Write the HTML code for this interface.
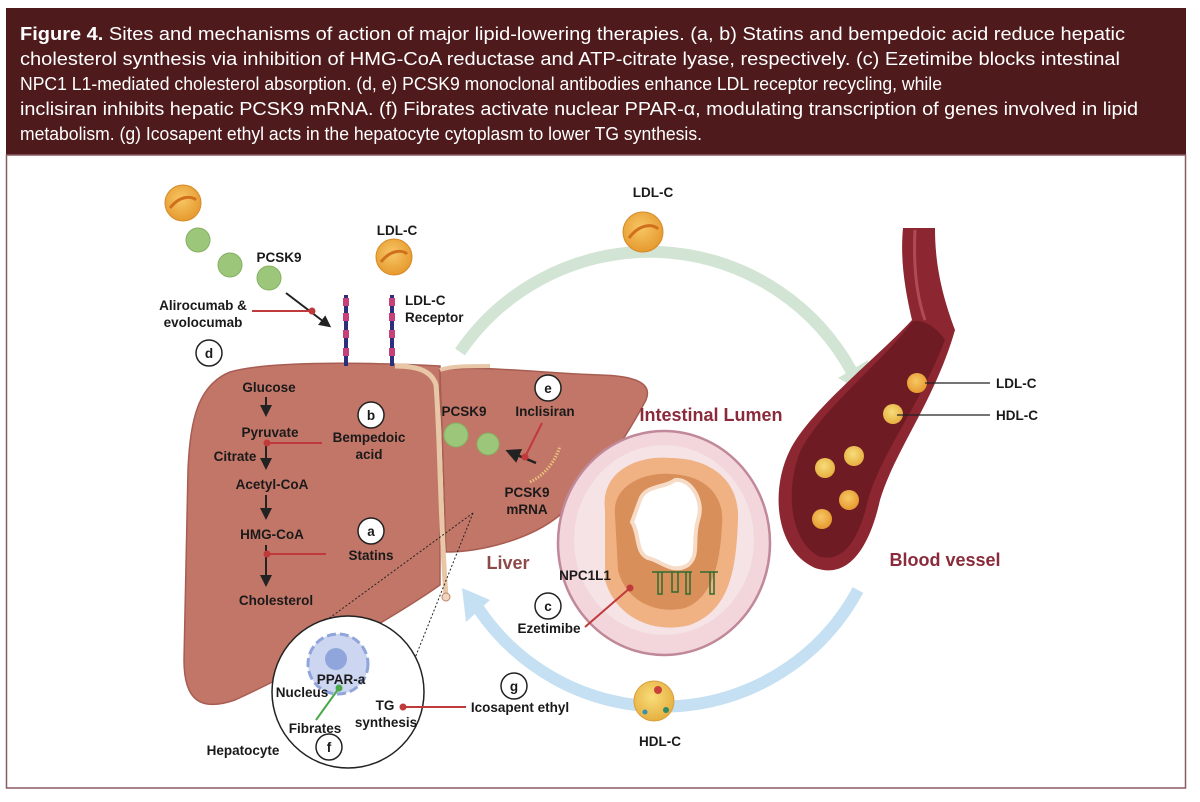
<!DOCTYPE html>
<html><head><meta charset="utf-8"><style>
html,body{margin:0;padding:0;background:#fff;width:1200px;height:802px;overflow:hidden}
svg{display:block}
text{font-family:"Liberation Sans",sans-serif}
.b{font-weight:bold;font-size:13.5px;fill:#1a1a1a}
</style></head><body>
<svg width="1200" height="802" viewBox="0 0 1200 802" xmlns="http://www.w3.org/2000/svg">
<defs>
<radialGradient id="ldl" cx="45%" cy="40%" r="60%"><stop offset="0" stop-color="#f7c766"/><stop offset="1" stop-color="#e69a2e"/></radialGradient>
<radialGradient id="hdl" cx="45%" cy="40%" r="60%"><stop offset="0" stop-color="#f8dc7a"/><stop offset="1" stop-color="#e6b040"/></radialGradient>
<marker id="ah" markerWidth="6" markerHeight="6" refX="4" refY="3" orient="auto" markerUnits="strokeWidth"><path d="M0,0 L6,3 L0,6 Z" fill="#222"/></marker>
</defs>
<rect x="6" y="8" width="1180" height="147" fill="#4f1a1c"/>
<g fill="#fff" font-size="18">
<text x="20" y="40" textLength="1105" lengthAdjust="spacingAndGlyphs"><tspan font-weight="bold">Figure 4.</tspan>  Sites and mechanisms of action of major lipid-lowering therapies. (a, b) Statins and bempedoic acid reduce hepatic</text>
<text x="20" y="65" textLength="1100" lengthAdjust="spacingAndGlyphs">cholesterol synthesis via inhibition of HMG-CoA reductase and ATP-citrate lyase, respectively. (c) Ezetimibe blocks intestinal</text>
<text x="20" y="90" textLength="922" lengthAdjust="spacingAndGlyphs">NPC1 L1-mediated cholesterol absorption. (d, e) PCSK9 monoclonal antibodies enhance LDL receptor recycling, while</text>
<text x="20" y="115" textLength="1118" lengthAdjust="spacingAndGlyphs">inclisiran inhibits hepatic PCSK9 mRNA. (f) Fibrates activate nuclear PPAR-α, modulating transcription of genes involved in lipid</text>
<text x="20" y="140" textLength="682" lengthAdjust="spacingAndGlyphs">metabolism. (g) Icosapent ethyl acts in the hepatocyte cytoplasm to lower TG synthesis.</text>
</g>
<rect x="6.5" y="155" width="1179" height="633" fill="none" stroke="#8a5a60" stroke-width="1.5"/>

<path d="M460,352 A230,230 0 0 1 852,372" fill="none" stroke="#d2e4d3" stroke-width="12"/>
<path d="M838,378 L872,398 L868,360 Z" fill="#d2e4d3"/>
<path d="M858,590 A222,222 0 0 1 478,608" fill="none" stroke="#c5e0f2" stroke-width="12"/>
<path d="M462,588 L466,622 L490,600 Z" fill="#c5e0f2"/>

<path d="M440,366 C380,363 270,360 230,372 C198,385 190,420 188,470 L184,660 C184,700 200,712 235,700 C300,670 390,620 440,585 Z" fill="#c27668" stroke="#a85d52" stroke-width="1.5"/>
<path d="M440,370 C480,365 540,373 600,375 C640,376 652,385 646,400 C630,430 600,480 560,515 C530,540 480,552 446,552 Z" fill="#c27668" stroke="#a85d52" stroke-width="1.5"/>
<path d="M395,366 C420,366 432,372 436,385 C440,430 440,520 446,596" fill="none" stroke="#e8c7a6" stroke-width="5"/>
<path d="M440,370 C450,366 470,366 490,366" fill="none" stroke="#e8c7a6" stroke-width="4"/>
<circle cx="446" cy="597" r="4" fill="#f2d5bf" stroke="#b8866a"/>

<g stroke-width="4">
<line x1="346" y1="295" x2="346" y2="366" stroke="#2c2f7a"/>
<line x1="392" y1="295" x2="392" y2="366" stroke="#2c2f7a"/>
</g>
<g fill="#c8407a">
<rect x="343" y="298" width="6" height="8"/><rect x="343" y="313" width="6" height="8"/><rect x="343" y="330" width="6" height="8"/><rect x="343" y="348" width="6" height="8"/>
<rect x="389" y="298" width="6" height="8"/><rect x="389" y="313" width="6" height="8"/><rect x="389" y="330" width="6" height="8"/><rect x="389" y="348" width="6" height="8"/>
</g>
<circle cx="183" cy="203" r="18" fill="url(#ldl)" stroke="#d58a2a"/>
<path d="M170,208 C180,195 192,196 196,200" stroke="#d0701c" stroke-width="3" fill="none"/>
<circle cx="394" cy="257" r="18" fill="url(#ldl)" stroke="#d58a2a"/>
<path d="M381,262 C391,249 403,250 407,254" stroke="#d0701c" stroke-width="3" fill="none"/>
<circle cx="643" cy="232" r="20" fill="url(#ldl)" stroke="#d58a2a"/>
<path d="M629,238 C640,223 654,224 658,229" stroke="#d0701c" stroke-width="3" fill="none"/>
<g fill="#9cc77a" stroke="#86b062">
<circle cx="198" cy="240" r="12"/><circle cx="230" cy="265" r="12"/><circle cx="269" cy="278" r="12"/>
<circle cx="456" cy="435" r="12"/><circle cx="488" cy="444" r="11"/>
</g>

<text class="b" x="397" y="235" text-anchor="middle" font-size="16">LDL-C</text>
<text class="b" x="279" y="262" text-anchor="middle">PCSK9</text>
<line x1="286" y1="293" x2="328" y2="325" stroke="#222" stroke-width="2" marker-end="url(#ah)"/>
<text class="b" x="203" y="310" text-anchor="middle">Alirocumab &amp;</text>
<text class="b" x="203" y="327" text-anchor="middle">evolocumab</text>
<line x1="252" y1="311" x2="312" y2="311" stroke="#c0393b" stroke-width="2"/><circle cx="312" cy="311" r="3.5" fill="#c0393b"/>
<circle cx="209" cy="353" r="13" fill="#fff" stroke="#222" stroke-width="1.5"/><text class="b" x="209" y="358" text-anchor="middle">d</text>
<text class="b" x="405" y="305">LDL-C</text><text class="b" x="405" y="322">Receptor</text>
<text class="b" x="653" y="197" text-anchor="middle" font-size="16">LDL-C</text>

<text class="b" x="269" y="392" text-anchor="middle">Glucose</text>
<text class="b" x="270" y="437" text-anchor="middle">Pyruvate</text>
<text class="b" x="235" y="461" text-anchor="middle">Citrate</text>
<text class="b" x="272" y="489" text-anchor="middle">Acetyl-CoA</text>
<text class="b" x="272" y="539" text-anchor="middle">HMG-CoA</text>
<text class="b" x="276" y="605" text-anchor="middle">Cholesterol</text>
<g stroke="#222" stroke-width="2">
<line x1="266" y1="397" x2="266" y2="413" marker-end="url(#ah)"/>
<line x1="266" y1="443" x2="266" y2="466" marker-end="url(#ah)"/>
<line x1="266" y1="495" x2="266" y2="516" marker-end="url(#ah)"/>
<line x1="266" y1="545" x2="266" y2="583" marker-end="url(#ah)"/>
</g>
<line x1="267" y1="443" x2="322" y2="443" stroke="#c0393b" stroke-width="2"/><circle cx="267" cy="443" r="3.5" fill="#c0393b"/>
<line x1="267" y1="554" x2="326" y2="554" stroke="#c0393b" stroke-width="2"/><circle cx="267" cy="554" r="3.5" fill="#c0393b"/>
<circle cx="371" cy="415" r="13" fill="#fff" stroke="#222" stroke-width="1.5"/><text class="b" x="371" y="420" text-anchor="middle">b</text>
<text class="b" x="369" y="442" text-anchor="middle">Bempedoic</text><text class="b" x="369" y="459" text-anchor="middle">acid</text>
<circle cx="371" cy="531" r="13" fill="#fff" stroke="#222" stroke-width="1.5"/><text class="b" x="371" y="536" text-anchor="middle">a</text>
<text class="b" x="371" y="560" text-anchor="middle">Statins</text>
<text class="b" x="464" y="416" text-anchor="middle">PCSK9</text>
<circle cx="548" cy="388" r="13" fill="#fff" stroke="#222" stroke-width="1.5"/><text class="b" x="548" y="393" text-anchor="middle">e</text>
<text class="b" x="545" y="416" text-anchor="middle">Inclisiran</text>
<line x1="542" y1="423" x2="525" y2="457" stroke="#c0393b" stroke-width="2"/>
<line x1="536" y1="463" x2="510" y2="452" stroke="#222" stroke-width="2.5" marker-end="url(#ah)"/>
<circle cx="525" cy="457" r="3.5" fill="#c0393b"/>
<path d="M530,482 C545,475 555,462 560,446" fill="none" stroke="#e8c27a" stroke-width="3" stroke-dasharray="1.5,1.5"/>
<text class="b" x="527" y="497" text-anchor="middle">PCSK9</text><text class="b" x="527" y="514" text-anchor="middle">mRNA</text>
<text x="508" y="569" text-anchor="middle" font-size="18" font-weight="bold" fill="#8c4a48">Liver</text>

<line x1="473" y1="513" x2="324" y2="622" stroke="#222" stroke-dasharray="2,2"/>
<line x1="473" y1="513" x2="413" y2="663" stroke="#222" stroke-dasharray="2,2"/>
<circle cx="348" cy="692" r="76" fill="#fff" stroke="#222" stroke-width="1.5"/>
<circle cx="338" cy="664" r="30" fill="#cdd6f0" stroke="#8fa5dc" stroke-width="3" stroke-dasharray="9,4"/>
<circle cx="336" cy="659" r="11" fill="#8fa5dc"/>
<text class="b" x="341" y="684" text-anchor="middle">PPAR-a</text>
<text class="b" x="302" y="697" text-anchor="middle" font-size="12.5">Nucleus</text>
<line x1="339" y1="688" x2="316" y2="720" stroke="#4aa84a" stroke-width="2"/><circle cx="339" cy="688" r="3.5" fill="#4aa84a"/>
<text class="b" x="315" y="733" text-anchor="middle">Fibrates</text>
<circle cx="329" cy="747" r="13" fill="#fff" stroke="#222" stroke-width="1.5"/><text class="b" x="329" y="752" text-anchor="middle">f</text>
<text class="b" x="243" y="755" text-anchor="middle">Hepatocyte</text>
<text class="b" x="385" y="710" text-anchor="middle">TG</text><text class="b" x="386" y="727" text-anchor="middle">synthesis</text>
<line x1="403" y1="707" x2="466" y2="707" stroke="#c0393b" stroke-width="2"/><circle cx="403" cy="707" r="3.5" fill="#c0393b"/>
<text class="b" x="520" y="712" text-anchor="middle">Icosapent ethyl</text>
<circle cx="514" cy="686" r="13" fill="#fff" stroke="#222" stroke-width="1.5"/><text class="b" x="514" y="691" text-anchor="middle">g</text>

<ellipse cx="664" cy="543" rx="106" ry="112" fill="#f2d6dc" stroke="#c08898" stroke-width="2.5"/>
<ellipse cx="664" cy="540" rx="90" ry="95" fill="#f5e3e6"/>
<path d="M605,510 C600,470 640,455 670,458 C710,458 740,480 738,520 C736,570 730,610 690,625 C650,635 615,615 605,580 Z" fill="#f0b183"/>
<path d="M615,515 C612,485 645,472 670,474 C705,475 725,495 722,525 C720,565 712,598 685,608 C655,615 625,600 618,570 Z" fill="#d98f5a"/>
<path d="M640,500 C645,485 665,488 675,480 C690,478 705,500 698,520 C692,540 700,555 688,565 C672,575 660,560 648,558 C635,552 640,535 632,522 Z" fill="#fff" stroke="#f6dcc6" stroke-width="4"/>
<g stroke="#2f6b2f" stroke-width="1.5" fill="none">
<path d="M652,572 h40 M658,572 v22 h4 v-22 M672,572 v20 h6 v-20 M686,572 v22 h4 v-22 M700,572 h18 M710,572 v22 h4 v-22"/>
</g>
<text class="b" x="585" y="580" text-anchor="middle" font-size="12.5">NPC1L1</text>
<line x1="585" y1="627" x2="630" y2="588" stroke="#c0393b" stroke-width="2"/><circle cx="630" cy="588" r="3.5" fill="#c0393b"/>
<circle cx="548" cy="606" r="13" fill="#fff" stroke="#222" stroke-width="1.5"/><text class="b" x="548" y="611" text-anchor="middle">c</text>
<text class="b" x="549" y="633" text-anchor="middle">Ezetimibe</text>
<text x="711" y="421" text-anchor="middle" font-size="18" font-weight="bold" fill="#8a2a3a">Intestinal Lumen</text>

<circle cx="654" cy="701" r="20" fill="url(#hdl)" stroke="#d9a040"/>
<circle cx="658" cy="690" r="4" fill="#c9423a"/><circle cx="666" cy="710" r="3" fill="#2f8a6a"/><circle cx="645" cy="712" r="2.5" fill="#3a8fb0"/>
<text class="b" x="660" y="746" text-anchor="middle" font-size="17">HDL-C</text>

<path d="M903,228 C900,260 905,290 912,320 C880,355 810,410 790,450 C770,490 775,550 815,568 C850,580 870,545 880,500 C895,450 935,400 955,330 C940,290 935,260 935,228 Z" fill="#8c2631"/>
<path d="M912,322 C885,360 820,410 800,452 C785,490 790,540 818,556 C845,565 860,535 868,500 C880,455 920,405 945,340 C935,325 920,318 912,322 Z" fill="#6e1b24"/>
<path d="M915,230 C913,270 918,300 925,320" stroke="#b24a55" stroke-width="3" fill="none"/>
<circle cx="917" cy="383" r="10" fill="url(#ldl)"/><circle cx="893" cy="414" r="10" fill="url(#hdl)"/>
<circle cx="854" cy="456" r="10" fill="url(#hdl)"/><circle cx="825" cy="468" r="10" fill="url(#hdl)"/>
<circle cx="849" cy="500" r="10" fill="url(#ldl)"/><circle cx="822" cy="519" r="10" fill="url(#ldl)"/>
<line x1="925" y1="383" x2="990" y2="383" stroke="#222" stroke-width="1.3"/>
<line x1="897" y1="415" x2="990" y2="415" stroke="#222" stroke-width="1.3"/>
<text class="b" x="996" y="388">LDL-C</text><text class="b" x="996" y="420">HDL-C</text>
<text x="945" y="566" text-anchor="middle" font-size="18" font-weight="bold" fill="#8a2a3a">Blood vessel</text>
</svg>
</body></html>
